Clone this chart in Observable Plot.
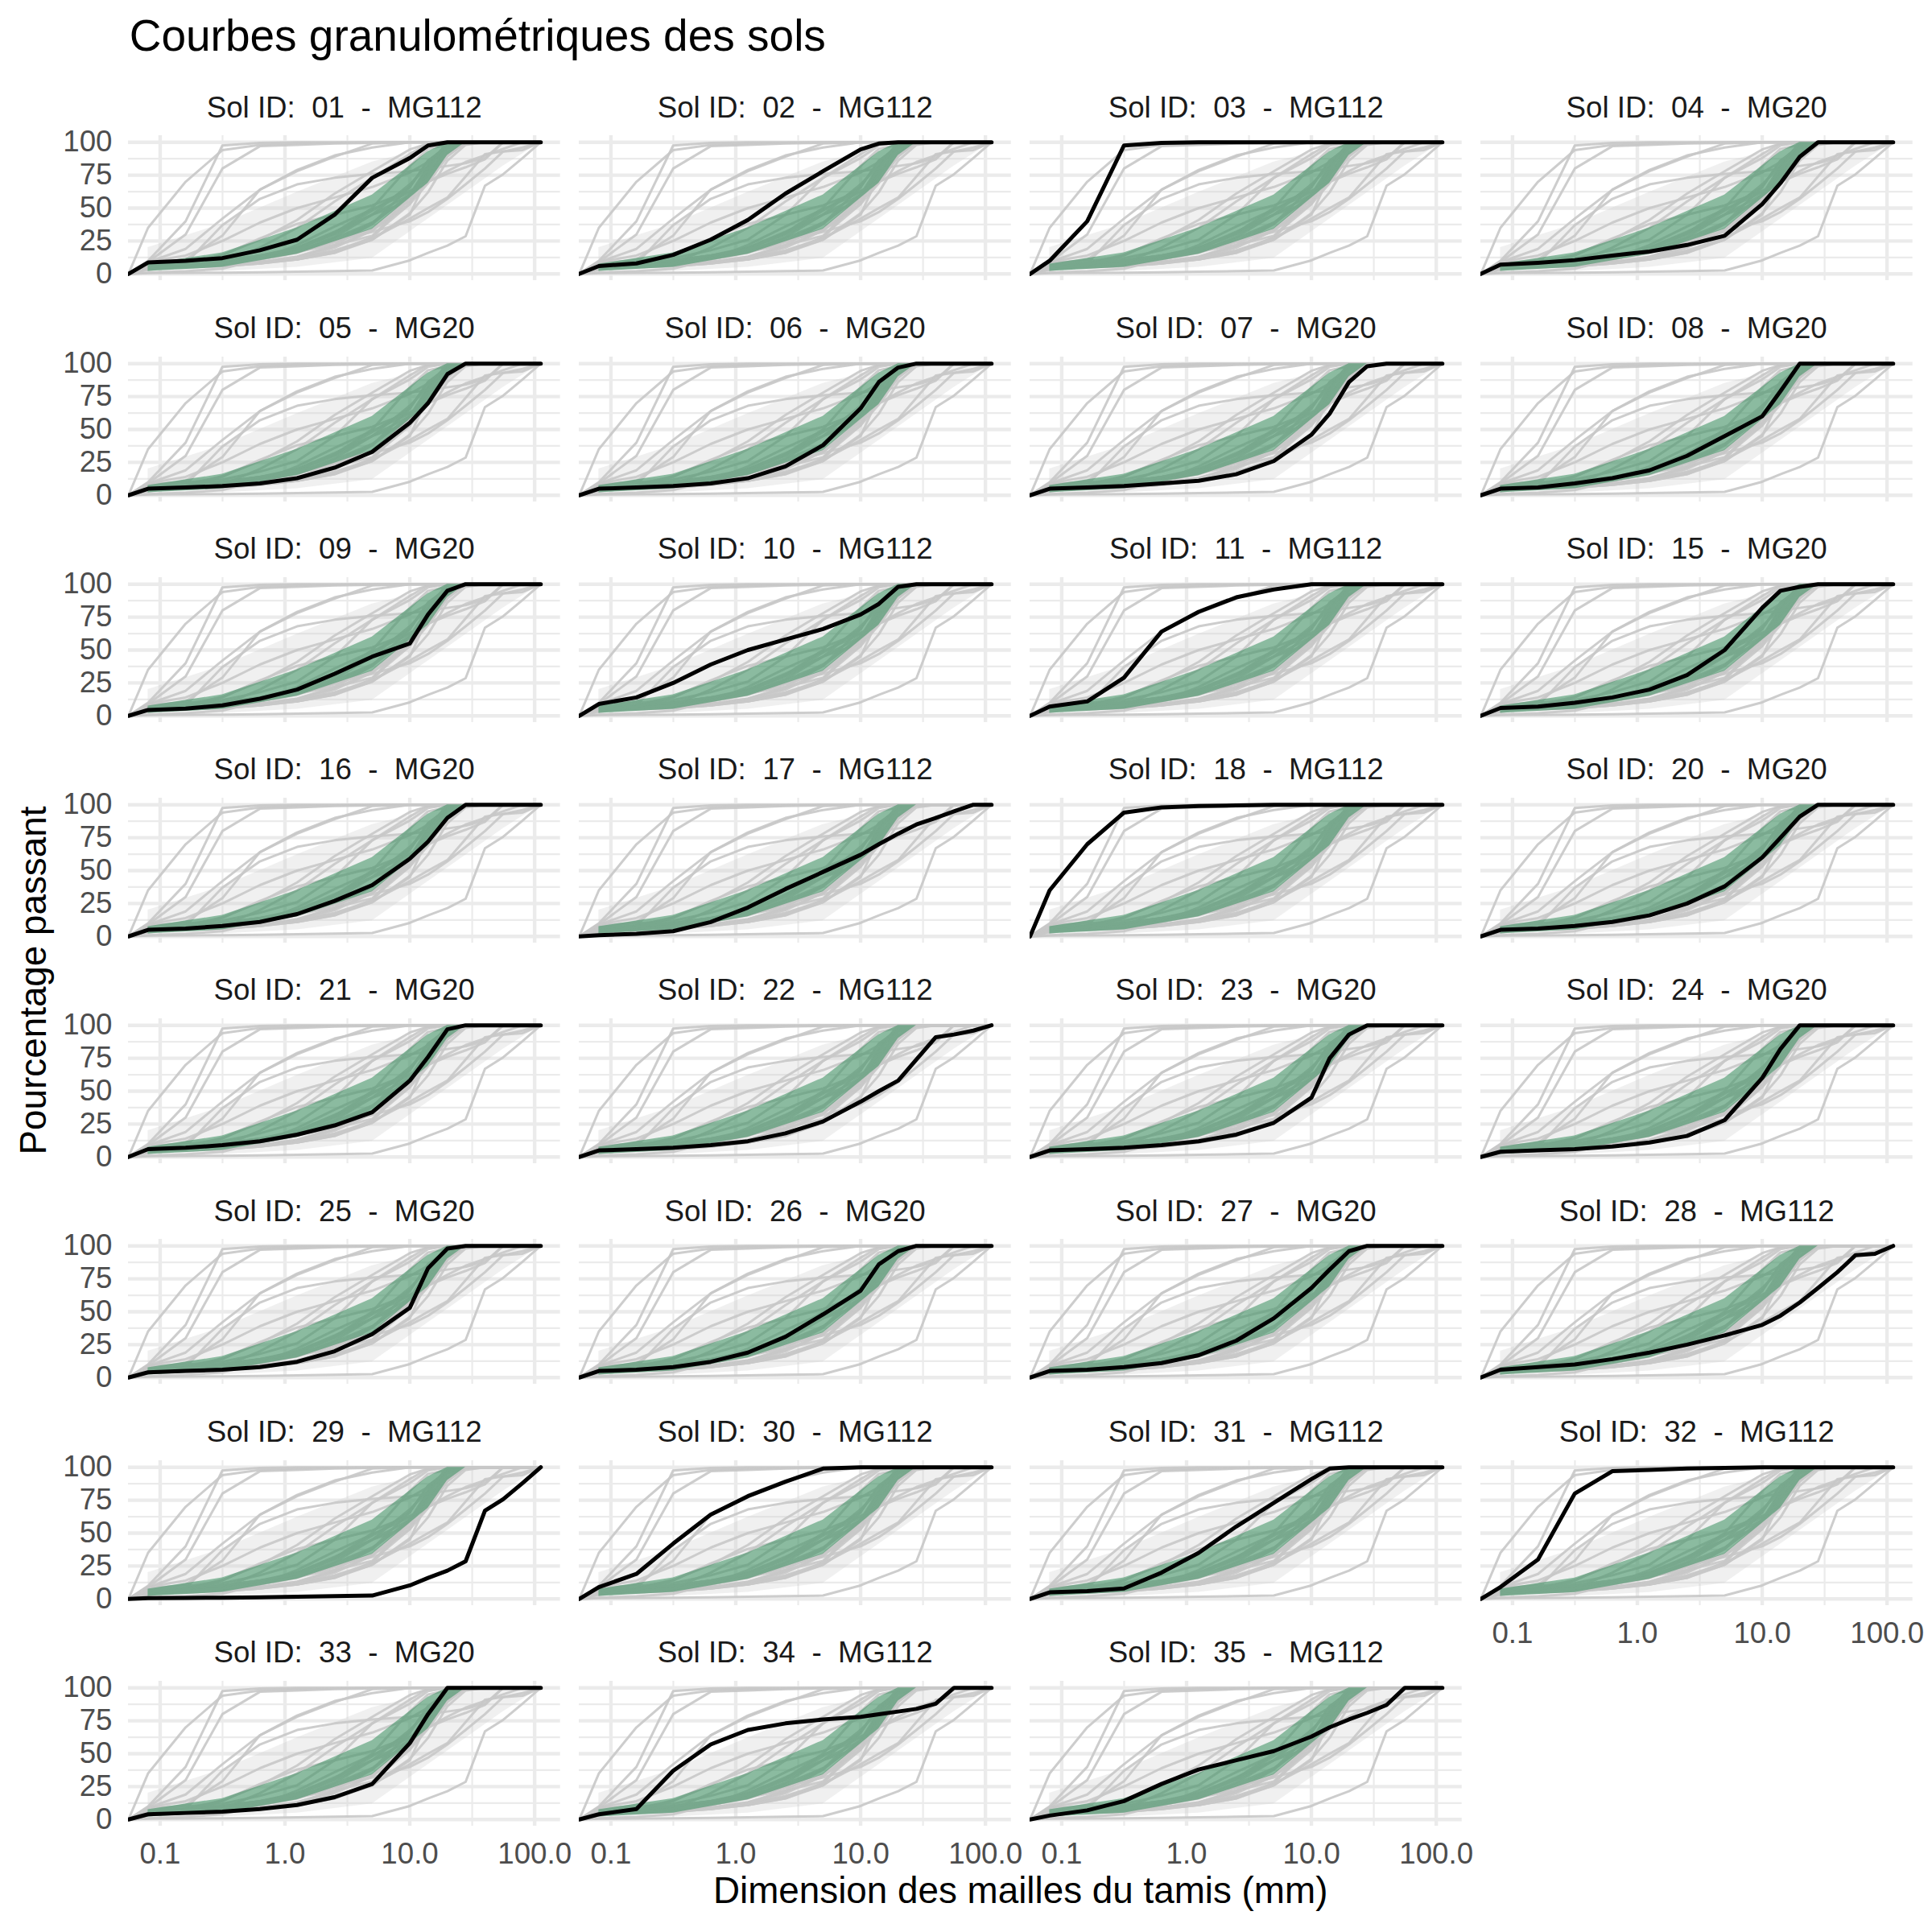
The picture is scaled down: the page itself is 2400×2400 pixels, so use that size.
<!DOCTYPE html>
<html><head><meta charset="utf-8">
<script src="https://cdn.jsdelivr.net/npm/d3@7"></script>
<script src="https://cdn.jsdelivr.net/npm/@observablehq/plot@0.6"></script>
<style>
body{margin:0;background:#fff;}
#root{position:relative;width:2400px;height:2400px;background:#fff;overflow:hidden;}
#root svg.plotpanel{position:absolute;}
</style></head><body><div id="root"></div>
<script>
// ---- data ----
const sieves = [0.08, 0.16, 0.315, 0.63, 1.25, 2.5, 5, 10, 14, 20, 28, 40, 56, 80, 112];
const soilIds = ["01","02","03","04","05","06","07","08","09","10","11","15","16","17","18","20","21","22","23","24","25","26","27","28","29","30","31","32","33","34","35"];
const soilClasses = ["MG112","MG112","MG112","MG20","MG20","MG20","MG20","MG20","MG20","MG112","MG112","MG20","MG20","MG112","MG112","MG20","MG20","MG112","MG20","MG20","MG20","MG20","MG20","MG112","MG112","MG112","MG112","MG112","MG20","MG112","MG112"];
const s01 = [8.7, 10, 12, 18, 26, 45, 73, 88, 97.5, 100, 100, 100, 100, 100, 100];
const s02 = [6, 8, 14.5, 26, 41, 61, 78, 94.5, 99, 100, 100, 100, 100, 100, 100];
const s03 = [10, 40, 97.5, 99.5, 100, 100, 100, 100, 100, 100, 100, 100, 100, 100, 100];
const s04 = [7, 8.5, 10.5, 14, 17, 22, 29, 53, 69, 89, 100, 100, 100, 100, 100];
const s05 = [5, 6, 7, 9, 13, 21, 33, 55, 70, 92, 100, 100, 100, 100, 100];
const s06 = [5, 6, 7, 9, 13, 22, 38, 66, 86, 97, 100, 100, 100, 100, 100];
const s07 = [5, 6, 7, 9, 11, 16, 26, 46, 62, 86, 98, 100, 100, 100, 100];
const s08 = [5, 6, 9, 13, 19, 30, 45, 60, 79, 100, 100, 100, 100, 100, 100];
const s09 = [4.5, 5.5, 8, 13, 20, 32, 45, 55, 77, 95, 100, 100, 100, 100, 100];
const s10 = [9, 14, 25, 39, 50, 58, 66, 77, 85, 98, 100, 100, 100, 100, 100];
const s11 = [7, 11, 29, 64, 79, 90, 96, 100, 100, 100, 100, 100, 100, 100, 100];
const s15 = [6, 7, 10, 14, 20, 31, 50, 82, 95, 98, 100, 100, 100, 100, 100];
const s16 = [5, 6, 8, 11, 17, 27, 39, 59, 72, 90, 100, 100, 100, 100, 100];
const s17 = [1, 2, 4, 11, 22, 36, 49, 62, 70, 78, 85, 90, 95, 100, 100];
const s18 = [35, 70, 94, 98, 99, 99.5, 100, 100, 100, 100, 100, 100, 100, 100, 100];
const s20 = [5, 6, 8, 11, 16, 25, 38, 60, 75, 91, 100, 100, 100, 100, 100];
const s21 = [6, 7, 9, 12, 17, 24, 34, 58, 76, 97, 100, 100, 100, 100, 100];
const s22 = [5, 6, 7, 9, 12, 18, 27, 42, 50, 58, 74, 91, 93, 96, 100];
const s23 = [5, 6, 7, 9, 12, 17, 26, 45, 75, 93, 100, 100, 100, 100, 100];
const s24 = [4, 5, 6, 8, 11, 16, 28, 60, 82, 100, 100, 100, 100, 100, 100];
const s25 = [4, 5, 6, 8, 12, 20, 33, 53, 83, 98, 100, 100, 100, 100, 100];
const s26 = [5, 6, 8, 12, 19, 31, 48, 66, 86, 96, 100, 100, 100, 100, 100];
const s27 = [5, 6, 8, 11, 17, 28, 45, 68, 82, 96, 100, 100, 100, 100, 100];
const s28 = [6, 8, 10, 14, 19, 25, 32, 40, 47, 57, 68, 80, 93, 94, 100];
const s29 = [0.6, 0.8, 1, 1.3, 1.7, 2.1, 2.6, 10.3, 16, 21.5, 28.6, 67, 75.7, 88, 100];
const s30 = [9, 19, 42, 64, 78, 89, 99, 100, 100, 100, 100, 100, 100, 100, 100];
const s31 = [5, 6, 8, 20, 35, 55, 73, 91, 99, 100, 100, 100, 100, 100, 100];
const s32 = [9, 30, 80, 97, 98, 99, 99.5, 100, 100, 100, 100, 100, 100, 100, 100];
const s33 = [4, 5, 6, 8, 11, 17, 27, 58, 80, 100, 100, 100, 100, 100, 100];
const s34 = [4, 8, 37, 57, 68, 73, 76, 78, 80, 82, 84, 88, 100, 100, 100];
const s35 = [3, 7, 14, 27, 38, 45, 52, 63, 70, 76, 81, 87, 100, 100, 100];
const passing = [s01,s02,s03,s04,s05,s06,s07,s08,s09,s10,s11,s15,s16,s17,s18,s20,s21,s22,s23,s24,s25,s26,s27,s28,s29,s30,s31,s32,s33,s34,s35];

// green envelope (MG20)
const greenSieves = [0.08, 0.315, 1.25, 5, 14, 20, 28];
const greenLow  = [2, 5, 15, 34, 69, 90, 100];
const greenHigh = [7.5, 16, 35, 60, 93, 100, 100];
// gray envelope
const graySieves = [0.08, 0.315, 1.25, 5, 20, 56, 112];
const grayLow  = [0, 2, 5, 12, 52, 82, 100];
const grayHigh = [20, 38, 62, 85, 99, 100, 100];

const xTicks = [0.1, 1, 10, 100];
const xMinor = [0.3162, 3.162, 31.62];
const yTicks = [0, 25, 50, 75, 100];
const yMinor = [12.5, 37.5, 62.5, 87.5];

// ---- layout ----
const X_MIN = Math.pow(10, -1.2542), X_MAX = Math.pow(10, 2.2065);
const PL = 159.3, PT = 168.3, PW = 536.7, PH = 180, DX = 560, DY = 274.2;
const FONT = '"Liberation Sans", Arial, Helvetica, sans-serif';

const root = document.getElementById("root");
const allRows = [];
soilIds.forEach((id, k) => {
  allRows.push({id, x: X_MIN, y: 0});
  sieves.forEach((s, j) => allRows.push({id, x: s, y: passing[k][j]}));
});
const green = greenSieves.map((s, i) => ({x: s, lo: greenLow[i], hi: greenHigh[i]}));
const gray = graySieves.map((s, i) => ({x: s, lo: grayLow[i], hi: grayHigh[i]}));
const n = soilIds.length;

soilIds.forEach((id, k) => {
  const col = k % 4, row = Math.floor(k / 4);
  const isLeft = col === 0;
  const isBottom = (k + 4) >= n;
  const mL = isLeft ? 100 : 0, mB = isBottom ? 70 : 0;
  const own = allRows.filter(d => d.id === id);
  const marks = [
    Plot.ruleY(yMinor, {stroke: "#ebebeb", strokeWidth: 2.2}),
    Plot.ruleX(xMinor, {stroke: "#ebebeb", strokeWidth: 2.2}),
    Plot.ruleY(yTicks, {stroke: "#ebebeb", strokeWidth: 4.4}),
    Plot.ruleX(xTicks, {stroke: "#ebebeb", strokeWidth: 4.4}),
    Plot.areaY(gray, {x: "x", y1: "lo", y2: "hi", fill: "#cccccc", fillOpacity: 0.3, clip: true}),
    Plot.line(allRows, {x: "x", y: "y", z: "id", stroke: "#c8c8c8", strokeOpacity: 0.9, strokeWidth: 3, clip: true}),
    Plot.areaY(green, {x: "x", y1: "lo", y2: "hi", fill: "#2e8b57", fillOpacity: 0.52, clip: true}),
    Plot.line(own, {x: "x", y: "y", stroke: "black", strokeWidth: 5, clip: true})
  ];
  if (isLeft) marks.push(Plot.axisY({ticks: yTicks, tickSize: 0, tickPadding: 20, label: null, fontSize: 36.7, color: "#4d4d4d"}));
  if (isBottom) marks.push(Plot.axisX({ticks: xTicks, tickSize: 0, tickPadding: 20, label: null, fontSize: 36.7, color: "#4d4d4d", tickFormat: d3.format(".1f")}));
  const svg = Plot.plot({
    width: PW + mL, height: PH + mB,
    marginLeft: mL, marginRight: 0, marginTop: 0, marginBottom: mB,
    x: {type: "log", domain: [X_MIN, X_MAX], axis: null},
    y: {domain: [-5, 105], axis: null},
    style: {background: "transparent", overflow: "visible", fontFamily: FONT, fontSize: "36.7px"},
    marks
  });
  svg.classList.add("plotpanel");
  svg.style.left = (PL + col * DX - mL) + "px";
  svg.style.top = (PT + row * DY) + "px";
  svg.style.position = "absolute";
  root.appendChild(svg);
});

// ---- texts ----
const NS = "http://www.w3.org/2000/svg";
const ov = document.createElementNS(NS, "svg");
ov.setAttribute("width", 2400); ov.setAttribute("height", 2400);
ov.style.position = "absolute"; ov.style.left = "0px"; ov.style.top = "0px"; ov.style.pointerEvents = "none";
ov.style.fontFamily = FONT;
function txt(s, x, y, size, fill, anchor, extra) {
  const t = document.createElementNS(NS, "text");
  t.setAttribute("x", x); t.setAttribute("y", y);
  t.setAttribute("font-size", size); t.setAttribute("fill", fill);
  t.setAttribute("text-anchor", anchor);
  t.style.whiteSpace = "pre";
  t.setAttribute("xml:space", "preserve");
  if (extra) extra(t);
  t.textContent = s;
  ov.appendChild(t);
  return t;
}
txt("Courbes granulométriques des sols", 160.7, 63, 55, "#000", "start");
txt("Dimension des mailles du tamis (mm)", PL + (3 * DX + PW) / 2, 2364, 45.8, "#000", "middle");
txt("Pourcentage passant", 0, 0, 45.8, "#000", "middle", t => t.setAttribute("transform", "translate(57,1218) rotate(-90)"));
soilIds.forEach((id, k) => {
  const col = k % 4, row = Math.floor(k / 4);
  txt(`Sol ID:  ${id}  -  ${soilClasses[k]}`, PL + col * DX + PW / 2, 133 + row * DY + 12.5, 36.7, "#1a1a1a", "middle");
});
root.appendChild(ov);
</script></body></html>
